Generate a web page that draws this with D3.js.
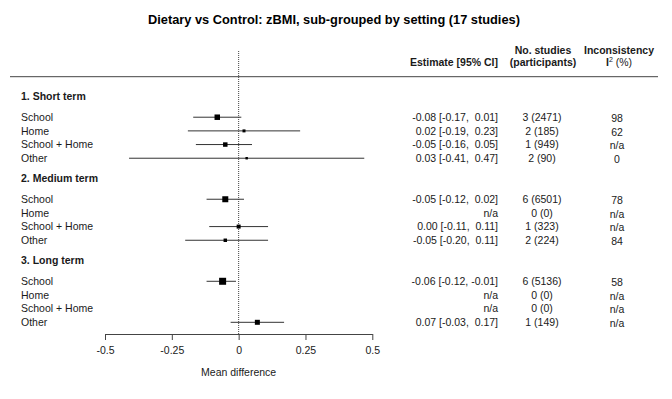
<!DOCTYPE html>
<html>
<head>
<meta charset="utf-8">
<script src="https://cdn.jsdelivr.net/npm/d3@7"></script>
<style>
  html, body { margin: 0; padding: 0; background: #fff; }
  svg { display: block; font-family: "Liberation Sans", Arial, sans-serif; }
  text { white-space: pre; }
</style>
</head>
<body>
<svg id="chart" width="672" height="399"></svg>
<script>
// ---- data ----
const title = "Dietary vs Control: zBMI, sub-grouped by setting (17 studies)";
const groups = ["1. Short term", "2. Medium term", "3. Long term"];
const settings = ["School", "Home", "School + Home", "Other"];
const estimates = [-0.08, 0.02, -0.05, 0.03,  -0.05, null, 0.00, -0.05,  -0.06, null, null, 0.07];
const lower     = [-0.17, -0.19, -0.16, -0.41, -0.12, null, -0.11, -0.20, -0.12, null, null, -0.03];
const upper     = [0.01, 0.23, 0.05, 0.47,    0.02, null, 0.11, 0.11,    -0.01, null, null, 0.17];
const weights   = [30, 9, 20, 6,  36, 0, 16, 12,  49, 0, 0, 25];
const studies      = [3, 2, 1, 2,  6, 0, 1, 2,  6, 0, 0, 1];
const participants = [2471, 185, 949, 90,  6501, 0, 323, 224,  5136, 0, 0, 149];
const i2Values = ["98", "62", "n/a", "0",  "78", "n/a", "n/a", "84",  "58", "n/a", "n/a", "n/a"];
const tickValues = [-0.5, -0.25, 0, 0.25, 0.5];
const tickLabels = ["-0.5", "-0.25", "0", "0.25", "0.5"];
const xLabel = "Mean difference";

// ---- build rows ----
const rows = [];
groups.forEach((g, gi) => {
  settings.forEach((s, si) => {
    const i = gi * settings.length + si;
    rows.push({
      group: gi, setting: s, pos: gi * 6 + 1.5 + si,
      est: estimates[i], lo: lower[i], hi: upper[i], w: weights[i],
      n: studies[i], p: participants[i], i2: i2Values[i]
    });
  });
});

const svg = d3.select("#chart");
const x = d3.scaleLinear().domain([-0.5, 0.5]).range([105, 372.3]);
const y = d3.scaleLinear().domain([0, 16.5]).range([96.7, 322.3]);
const box = d3.scaleSqrt().domain([0, 49]).range([0, 7]);
const fs = 10.5;
const textCol = "#1a1a1a";

// title
svg.append("text").attr("x", 334).attr("y", 20).attr("dy", "0.35em")
  .attr("text-anchor", "middle").attr("font-size", 12.8).attr("font-weight", "bold")
  .attr("fill", "#000").text(title);

// header
const hdr = svg.append("g").attr("font-size", fs).attr("font-weight", "bold").attr("fill", textCol);
hdr.append("text").attr("x", 498).attr("y", 62).attr("dy", "0.35em").attr("text-anchor", "end").text("Estimate [95% CI]");
hdr.append("text").attr("x", 543).attr("y", 50.7).attr("dy", "0.35em").attr("text-anchor", "middle").text("No. studies");
hdr.append("text").attr("x", 543).attr("y", 62).attr("dy", "0.35em").attr("text-anchor", "middle").text("(participants)");
hdr.append("text").attr("x", 619).attr("y", 50).attr("dy", "0.35em").attr("text-anchor", "middle").text("Inconsistency");
const i2h = hdr.append("text").attr("x", 619).attr("y", 62).attr("dy", "0.35em").attr("text-anchor", "middle");
i2h.append("tspan").text("I");
i2h.append("tspan").attr("font-size", 7).attr("dy", "-0.5em").attr("font-weight", "normal").text("2");
i2h.append("tspan").attr("dy", "0.35em").attr("font-weight", "normal").text(" (%)");

// horizontal separator
svg.append("line").attr("x1", 10).attr("x2", 658).attr("y1", 76.7).attr("y2", 76.7)
  .attr("stroke", "#444").attr("stroke-width", 1);

// reference line at 0
svg.append("line").attr("x1", x(0)).attr("x2", x(0)).attr("y1", 51).attr("y2", 334)
  .attr("stroke", "#444").attr("stroke-width", 1).attr("stroke-dasharray", "1,1");

// group headings
svg.append("g").selectAll("text").data(groups).join("text")
  .attr("x", 21).attr("y", (d, i) => y(i * 6)).attr("dy", "0.35em")
  .attr("font-size", fs).attr("font-weight", "bold").attr("fill", textCol).text(d => d);

// row labels
svg.append("g").selectAll("text").data(rows).join("text")
  .attr("x", 21).attr("y", d => y(d.pos)).attr("dy", "0.35em")
  .attr("font-size", fs).attr("fill", textCol).text(d => d.setting);

// CI lines & boxes
const valid = rows.filter(d => d.est !== null);
svg.append("g").selectAll("line").data(valid).join("line")
  .attr("x1", d => x(d.lo)).attr("x2", d => x(d.hi))
  .attr("y1", d => y(d.pos)).attr("y2", d => y(d.pos))
  .attr("stroke", "#333").attr("stroke-width", 1);
svg.append("g").selectAll("rect").data(valid).join("rect")
  .attr("x", d => x(d.est) - box(d.w) / 2).attr("y", d => y(d.pos) - box(d.w) / 2)
  .attr("width", d => box(d.w)).attr("height", d => box(d.w)).attr("fill", "#000");

// estimate text
const f = v => d3.format(".2f")(v).replace("\u2212", "-");
const pad = v => { const s = f(v); return s.length < 5 ? " " + s : s; };
svg.append("g").selectAll("text").data(rows).join("text")
  .attr("x", 498).attr("y", d => y(d.pos)).attr("dy", "0.35em").attr("text-anchor", "end")
  .attr("font-size", fs).attr("fill", textCol)
  .text(d => d.est === null ? "n/a" : `${f(d.est)} [${f(d.lo)}, ${pad(d.hi)}]`);

// studies (participants)
svg.append("g").selectAll("text").data(rows).join("text")
  .attr("x", 542).attr("y", d => y(d.pos)).attr("dy", "0.35em").attr("text-anchor", "middle")
  .attr("font-size", fs).attr("fill", textCol)
  .text(d => `${d.n} (${d.p})`);

// I2
svg.append("g").selectAll("text").data(rows).join("text")
  .attr("x", 617).attr("y", d => y(d.pos) + 1).attr("dy", "0.35em").attr("text-anchor", "middle")
  .attr("font-size", fs).attr("fill", textCol)
  .text(d => d.i2);

// x axis
const axis = d3.axisBottom(x).tickValues(tickValues)
  .tickFormat((d, i) => tickLabels[i]).tickSize(6).tickSizeOuter(0).tickPadding(7);
const ag = svg.append("g").attr("transform", "translate(0,334)").call(axis);
ag.select(".domain").attr("stroke", "#444");
ag.selectAll(".tick line").attr("stroke", "#444");
ag.selectAll(".tick text").attr("font-size", fs).attr("fill", textCol)
  .attr("font-family", "'Liberation Sans', Arial, sans-serif");

svg.append("text").attr("x", x(0)).attr("y", 372).attr("dy", "0.35em").attr("text-anchor", "middle")
  .attr("font-size", fs).attr("fill", textCol).text(xLabel);
</script>
</body>
</html>
